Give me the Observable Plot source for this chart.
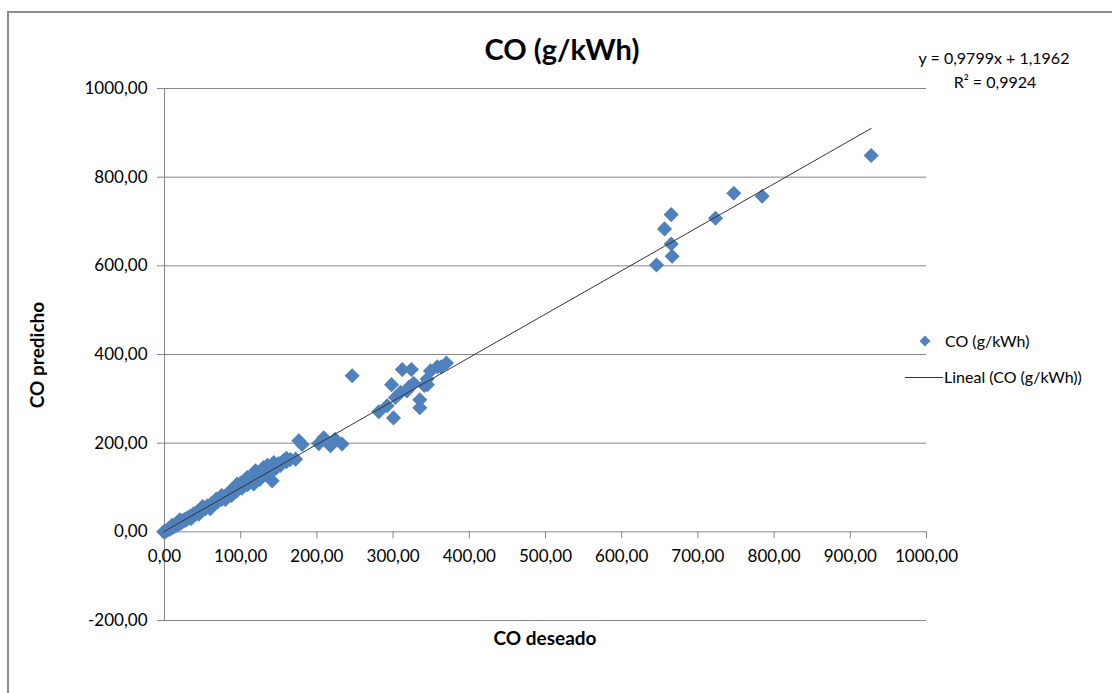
<!DOCTYPE html>
<html><head><meta charset="utf-8">
<script src="https://cdn.jsdelivr.net/npm/d3@7"></script>
<script src="https://cdn.jsdelivr.net/npm/@observablehq/plot@0.6"></script>
<style>
html,body{margin:0;padding:0;background:#fff;overflow:hidden;}
#wrap{position:relative;width:1112px;height:693px;font-family:Lato,"Liberation Sans",sans-serif;color:#000;overflow:hidden;}
#wrap > svg.plot{position:absolute;left:0;top:0;}
#frame{position:absolute;left:7px;top:11px;width:1300px;height:900px;border:2px solid #8c8c8c;box-sizing:border-box;}
.t{position:absolute;white-space:nowrap;line-height:1;transform:translate(-50%,-50%);}
.l{position:absolute;white-space:nowrap;line-height:1;transform:translate(0,-50%);}
</style></head><body><div id="wrap"><div id="frame"></div></div>
<script>
// CO deseado (x) and CO predicho (y)
const deseado = [
  -1, 0.5, 1.5, 2.8, 4.2, 5.5, 7.1, 8.3, 9.8, 11.2, 12.6, 14.1, 15.7, 17.3, 18.8, 20.4, 22.1, 23.7, 25.5, 27.2,
  29.0, 30.8, 32.6, 34.5, 36.4, 38.3, 40.2, 42.3, 44.5, 46.8, 49.1, 51.5, 53.9, 56.4, 58.9, 61.5, 64.1, 66.8, 69.6, 72.4,
  75.3, 78.3, 81.4, 84.5, 86.6, 88.0, 91.2, 94.5, 95.4, 98.0, 101.6, 105.2, 108.5, 109.0, 113.0, 117.0, 119.4, 121.0, 125.5, 130.0,
  134.0, 138.5, 141.3, 143.5, 147.0, 152.0, 156.0, 160.0, 165.0, 172.0, 176.3, 180.5, 202.5, 209.0, 217.8, 224.0, 233.0, 246.3,
  20.0, 35.0, 50.0, 60.0, 75.0, 80.0, 95.0, 100.0, 115.0, 125.0, 135.0, 140.0, 150.0, 160.0, 128.0, 110.0, 10.0, 45.0, 68.0, 88.0,
  281.2, 292.2, 300.5, 303.0, 309.7, 298.0, 312.0, 324.0, 320.6, 341.0, 335.0, 335.0, 344.7, 349.0, 358.0, 370.0, 318.0, 327.0, 345.0, 363.0,
  645.7, 666.2, 665.0, 656.2, 664.9, 723.1, 747.1, 784.3, 927.4
];
const predicho = [
  0, 1.2, 0.8, 3.5, 4.1, 6.8, 6.2, 9.5, 8.7, 12.4, 11.5, 15.8, 14.2, 18.9, 17.1, 22.3, 20.6, 25.4, 23.8, 29.1,
  27.3, 32.5, 30.9, 36.2, 34.1, 40.5, 38.4, 44.1, 42.6, 48.9, 47.0, 53.4, 52.1, 58.7, 56.5, 63.2, 61.8, 68.9, 67.4, 74.8,
  72.9, 79.5, 78.6, 86.8, 92.6, 85.3, 93.4, 91.7, 107.7, 100.6, 98.3, 108.1, 122.6, 106.4, 115.5, 108.0, 137.7, 119.2, 128.6, 145.0,
  131.2, 140.3, 115.0, 156.5, 144.8, 149.6, 160.0, 158.2, 163.0, 164.0, 205.4, 197.0, 199.0, 212.0, 194.0, 209.0, 198.0, 352.1,
  27.0, 30.0, 57.0, 52.0, 82.0, 73.0, 101.0, 110.0, 125.0, 118.0, 150.0, 134.0, 154.0, 166.0, 140.0, 118.0, 15.0, 40.0, 74.0, 82.0,
  270.9, 284.4, 257.0, 303.0, 314.5, 332.0, 366.0, 366.0, 325.8, 330.0, 298.0, 280.0, 344.7, 363.0, 372.0, 381.0, 318.0, 335.0, 332.0, 372.0,
  602.0, 621.5, 649.4, 683.3, 715.6, 707.3, 763.7, 757.0, 848.8
];
const xTicks = [0, 100, 200, 300, 400, 500, 600, 700, 800, 900, 1000];
const yTicks = [-200, 0, 200, 400, 600, 800, 1000];
const slope = 0.9799, intercept = 1.1962, r2 = 0.9924;
const seriesName = "CO (g/kWh)";
const chartTitle = "CO (g/kWh)";
const xTitle = "CO deseado";
const yTitle = "CO predicho";

const fmt = d => d.toFixed(2).replace(".", ",");
const fmt4 = d => d.toFixed(4).replace(".", ",");
const pts = deseado.map((x, i) => ({x, y: predicho[i]}));
const xr = d3.extent(deseado);
const fit = xr.map(x => ({x, y: slope * x + intercept}));

const GRID = "#868686";
const BLUE = "#4F81BD";

const chart = Plot.plot({
  width: 1112, height: 693,
  marginLeft: 164, marginRight: 186, marginTop: 88, marginBottom: 73,
  x: {domain: [0, 1000], axis: null},
  y: {domain: [-200, 1000], axis: null},
  style: {fontFamily: "Lato, 'Liberation Sans', sans-serif", fontSize: "17px", color: "#000", background: "transparent"},
  marks: [
    Plot.ruleY(yTicks, {stroke: GRID, strokeWidth: 1}),
    Plot.ruleX([0], {y1: d3.min(yTicks), y2: d3.max(yTicks), stroke: GRID}),
    Plot.axisY(yTicks, {label: null, tickSize: 7, tickPadding: 10, tickFormat: fmt, stroke: GRID, fill: "#000", fontSize: 17}),
    Plot.ruleX(xTicks, {x: d => d, y1: 0, y2: 0, insetBottom: -7, stroke: GRID}),
    Plot.text(xTicks, {x: d => d, y: 0, dy: 25, text: d => fmt(d), fontSize: 17, fill: "#000"}),
    Plot.dot(pts, {x: "x", y: "y", symbol: "diamond2", r: 6.8, fill: BLUE, stroke: "none"}),
    Plot.line(fit, {x: "x", y: "y", stroke: "#333", strokeWidth: 1})
  ]
});
chart.classList.add("plot");
const wrap = document.getElementById("wrap");
wrap.appendChild(chart);

function addText(cls, txt, x, y, style) {
  const d = document.createElement("div");
  d.className = cls;
  d.textContent = txt;
  d.style.left = x + "px"; d.style.top = y + "px";
  Object.assign(d.style, style || {});
  wrap.appendChild(d);
  return d;
}
addText("t", chartTitle, 562, 48, {fontSize: "29px", fontWeight: "bold"});
addText("t", xTitle, 545, 637, {fontSize: "19px", fontWeight: "bold"});
addText("t", yTitle, 36, 355, {fontSize: "19px", fontWeight: "bold", transform: "translate(-50%,-50%) rotate(-90deg)"});
addText("t", `y = ${fmt4(slope)}x + ${fmt4(intercept)}`, 994, 58, {fontSize: "16px"});
const r2d = addText("t", "", 995, 82, {fontSize: "16px"});
r2d.innerHTML = `R<span style="font-size:15px;position:relative;top:-1px">²</span> = ${fmt4(r2)}`;

// legend
const ns = "http://www.w3.org/2000/svg";
const lg = document.createElementNS(ns, "svg");
lg.setAttribute("width", 1112); lg.setAttribute("height", 693);
lg.style.position = "absolute"; lg.style.left = "0"; lg.style.top = "0";
lg.innerHTML = `<path d="M925,335.5L930.5,341L925,346.5L919.5,341Z" fill="${BLUE}"/>
<line x1="905" y1="377.5" x2="943" y2="377.5" stroke="#333" stroke-width="1"/>`;
wrap.appendChild(lg);
addText("l", seriesName, 945, 341, {fontSize: "16px"});
addText("l", `Lineal (${seriesName})`, 944, 377, {fontSize: "16px"});
</script>
</body></html>
